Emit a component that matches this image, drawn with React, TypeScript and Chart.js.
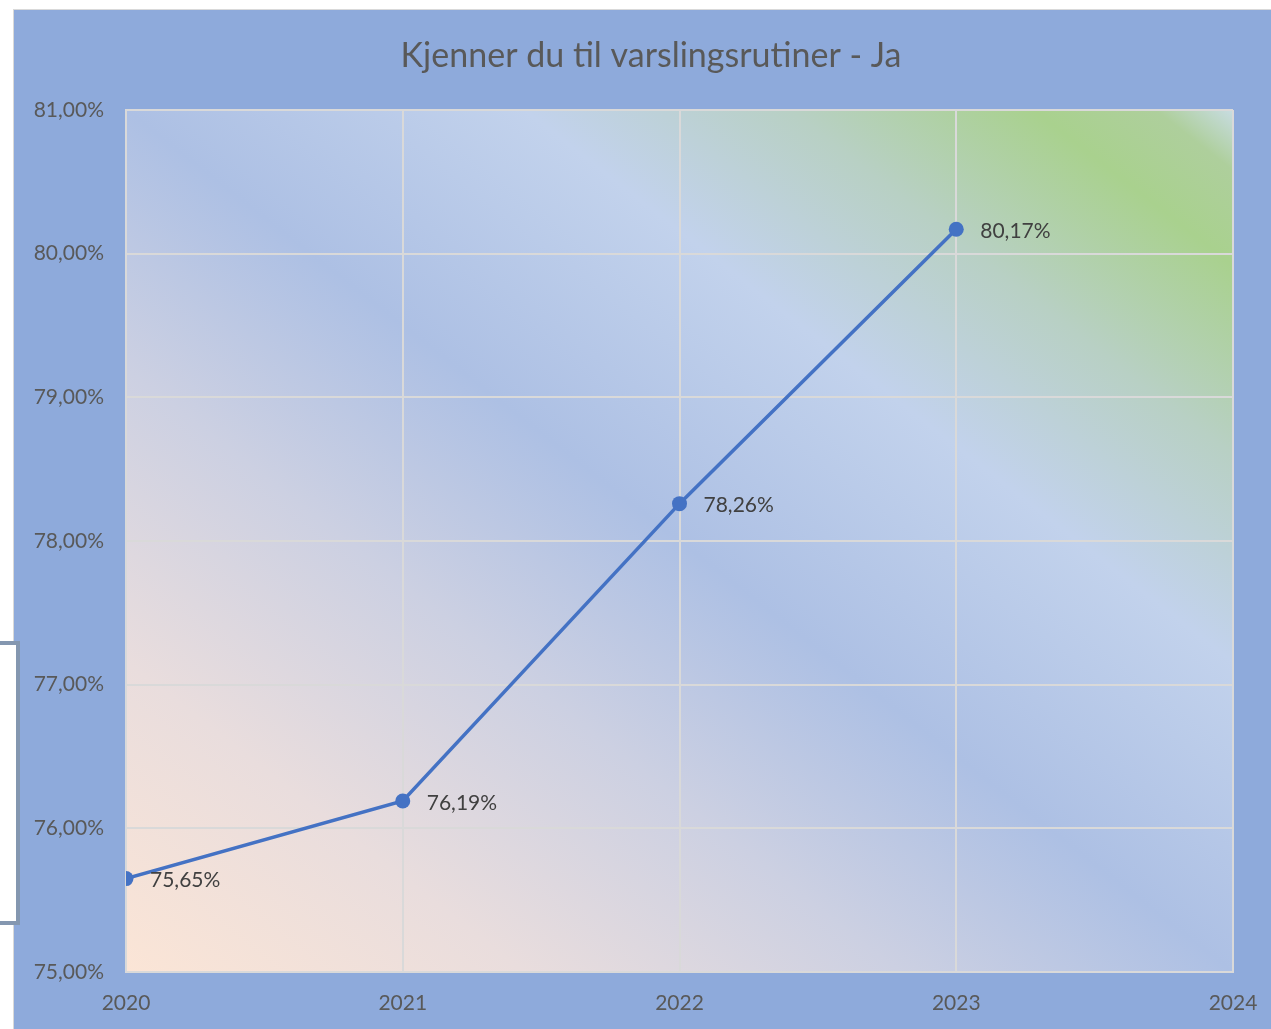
import React, { useEffect, useRef } from "react";
import { Chart, registerables } from "chart.js";

Chart.register(...registerables);

const TITLE = "Kjenner du til varslingsrutiner - Ja";
const years = [2020, 2021, 2022, 2023];
const values = [75.65, 76.19, 78.26, 80.17];
const xMin = 2020;
const xMax = 2024;
const yMin = 75;
const yMax = 81;

const fmtPct = (v: number) => v.toFixed(2).replace(".", ",") + "%";

const FONT = "Lato, 'Open Sans', sans-serif";

const bgPlugin = {
  id: "plotBg",
  beforeDraw(chart: any) {
    const { ctx, chartArea } = chart;
    if (!chartArea) return;
    const { left, top, right, bottom } = chartArea;
    const W = right - left;
    const H = bottom - top;
    const k = (2 * W * H) / (W * W + H * H);
    const g = ctx.createLinearGradient(left, bottom, left + H * k, bottom - W * k);
    g.addColorStop(0, "#FBE5D6");
    g.addColorStop(0.18, "#E9DDDD");
    g.addColorStop(0.35, "#CCD0E2");
    g.addColorStop(0.5, "#ADC0E4");
    g.addColorStop(0.68, "#C2D2EC");
    g.addColorStop(0.8, "#B8D0C4");
    g.addColorStop(0.91, "#A9D18E");
    g.addColorStop(0.965, "#AECF9C");
    g.addColorStop(1, "#C8DCE2");
    ctx.save();
    ctx.fillStyle = g;
    ctx.fillRect(left, top, W, H);
    ctx.restore();
  },
};

const titlePlugin = {
  id: "customTitle",
  afterDraw(chart: any) {
    const { ctx } = chart;
    ctx.save();
    ctx.font = `34px ${FONT}`;
    ctx.fillStyle = "#595959";
    ctx.textAlign = "center";
    ctx.textBaseline = "middle";
    ctx.fillText(TITLE, 637, 46);
    ctx.restore();
  },
};

const labelPlugin = {
  id: "dataLabels",
  afterDatasetsDraw(chart: any) {
    const { ctx } = chart;
    const meta = chart.getDatasetMeta(0);
    ctx.save();
    ctx.font = `21px ${FONT}`;
    ctx.fillStyle = "#404040";
    ctx.textAlign = "left";
    ctx.textBaseline = "middle";
    meta.data.forEach((pt: any, i: number) => {
      ctx.fillText(fmtPct(values[i]), pt.x + 24, pt.y + 2);
    });
    ctx.restore();
  },
};

export default function App() {
  const ref = useRef<HTMLCanvasElement | null>(null);

  useEffect(() => {
    document.body.style.overflow = "hidden";
    const canvas = ref.current;
    if (!canvas) return;
    const chart = new Chart(canvas, {
      type: "line",
      data: {
        datasets: [
          {
            label: TITLE,
            data: years.map((x, i) => ({ x, y: values[i] })),
            borderColor: "#4472C4",
            backgroundColor: "#4472C4",
            borderWidth: 3.5,
            pointRadius: 7.5,
            pointBackgroundColor: "#4472C4",
            pointBorderColor: "#4472C4",
            pointBorderWidth: 0,
            tension: 0,
            fill: false,
          },
        ],
      },
      options: {
        animation: false,
        responsive: false,
        maintainAspectRatio: false,
        layout: { padding: { left: 0, right: 38, top: 100, bottom: 0 } },
        plugins: {
          legend: { display: false },
          tooltip: { enabled: false },
          title: { display: false },
        },
        scales: {
          x: {
            type: "linear",
            min: xMin,
            max: xMax,
            ticks: {
              stepSize: 1,
              color: "#595959",
              font: { family: FONT, size: 21 },
              padding: 19,
              callback: (v: any) => String(v),
            },
            grid: { color: "#D9D9D9", lineWidth: 2, drawTicks: false },
            border: { display: true, color: "#D9D9D9", width: 2 },
            afterFit: (s: any) => {
              s.height = 57;
              s.paddingLeft = 0;
              s.paddingRight = 0;
            },
          },
          y: {
            min: yMin,
            max: yMax,
            ticks: {
              stepSize: 1,
              color: "#595959",
              font: { family: FONT, size: 21 },
              padding: 22,
              callback: (v: any) => fmtPct(Number(v)),
            },
            grid: { color: "#D9D9D9", lineWidth: 2, drawTicks: false },
            border: { display: true, color: "#D9D9D9", width: 2 },
            afterFit: (s: any) => {
              s.width = 112;
            },
          },
        },
      },
      plugins: [bgPlugin, labelPlugin, titlePlugin],
    });
    return () => chart.destroy();
  }, []);

  return (
    <div>
      <div
        style={{
          position: "absolute",
          left: 13,
          top: 9,
          width: 1257,
          height: 1019,
          background: "#8EAADB",
          borderTop: "1px solid #D9D9D9",
          borderLeft: "1px solid #D9D9D9",
        }}
      >
        <canvas ref={ref} width={1257} height={1019} style={{ display: "block" }} />
      </div>
      <div
        style={{
          position: "absolute",
          left: -10,
          top: 641,
          width: 22,
          height: 276,
          background: "#FFFFFF",
          border: "4px solid #8497B0",
        }}
      />
    </div>
  );
}
